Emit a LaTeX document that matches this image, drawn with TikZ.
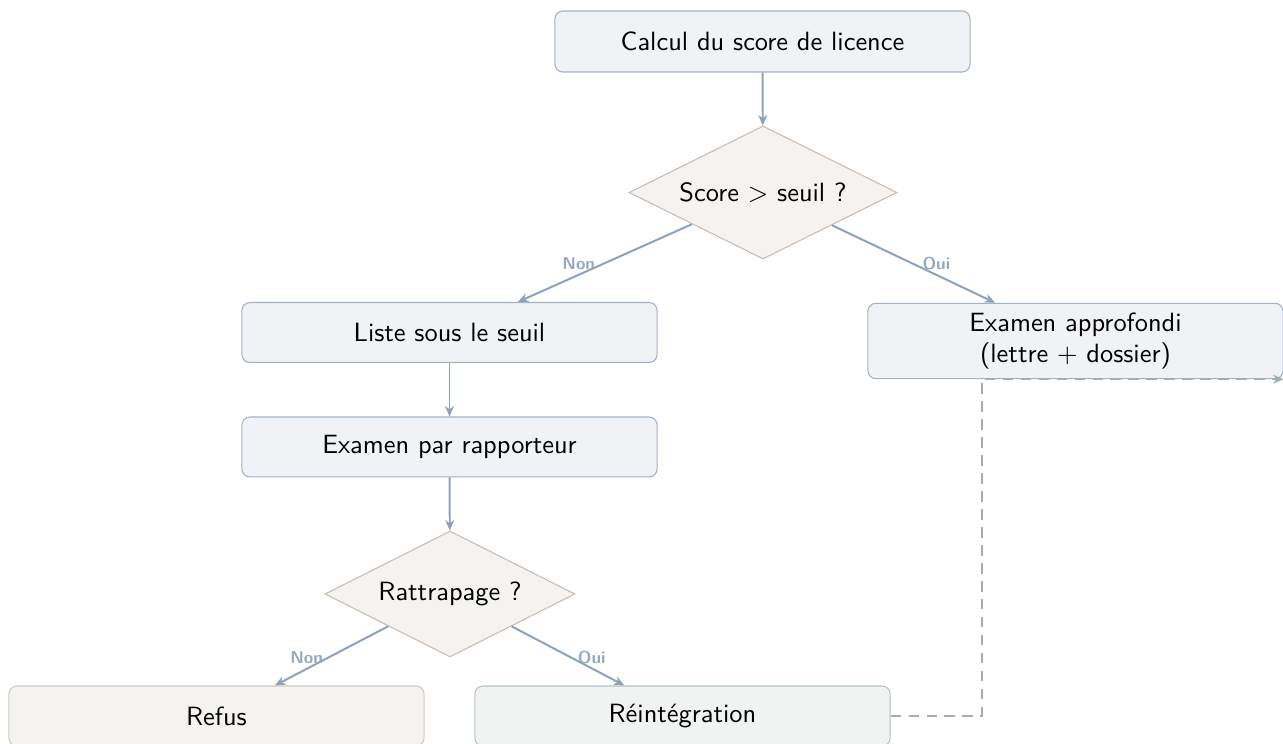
\documentclass[tikz,border=0pt]{standalone}
\usetikzlibrary{shapes.geometric,arrows.meta,calc}
\definecolor{boxfill}{HTML}{F0F2F6}
\definecolor{boxdraw}{HTML}{A2B2C4}
\definecolor{decfill}{HTML}{F4F3F1}
\definecolor{decdraw}{HTML}{C9BBAE}
\definecolor{refdraw}{HTML}{D2CAC2}
\definecolor{reifill}{HTML}{F1F3F2}
\definecolor{reidraw}{HTML}{B6C2C4}
\definecolor{arrcol}{HTML}{8DA2B8}
\definecolor{labcol}{HTML}{95A8BC}
\definecolor{dashcol}{HTML}{9FB0AE}
\tikzset{
  procbox/.style={rectangle, rounded corners=3pt, draw=boxdraw, fill=boxfill, line width=0.4pt,
    minimum width=157.2pt, minimum height=22.7pt, inner ysep=3.5pt, align=center,
    font=\sffamily},
  decbox/.style={diamond, draw=decdraw, fill=decfill, line width=0.4pt, aspect=2, inner sep=1pt,
    font=\sffamily},
  refbox/.style={procbox, draw=refdraw, fill=decfill},
  reibox/.style={procbox, draw=reidraw, fill=reifill},
  arr/.style={draw=arrcol, line width=0.75pt, -{Stealth[length=4pt,width=3.4pt]}},
  darr/.style={draw=dashcol, line width=0.75pt, dash pattern=on 4pt off 2.8pt, -{Stealth[length=4pt,width=3.4pt]}},
  lab/.style={font=\sffamily\bfseries\fontsize{6.5}{7.5}\selectfont, text=labcol, inner sep=1.5pt}
}
\begin{document}
\begin{tikzpicture}[x=0.3787pt,y=-0.3787pt]
\useasboundingbox (0,0) rectangle (1283,744);
\node[procbox, minimum height=23.1pt] (calc) at (762.5,41.5) {Calcul du score de licence};
\node[decbox, minimum width=101.5pt, minimum height=50.4pt] (d1) at (763,192.5) {Score $>$ seuil ?};
\node[procbox] (liste) at (449.5,332.5) {Liste sous le seuil};
\node[procbox] (exam) at (1075.5,341) {Examen approfondi\\(lettre + dossier)};
\node[procbox] (rapp) at (449.5,447) {Examen par rapporteur};
\node[decbox, minimum width=94.7pt, minimum height=47.7pt] (d2) at (450,594) {Rattrapage ?};
\node[refbox] (refus) at (216.5,716) {Refus};
\node[reibox] (reint) at (682.5,716) {Réintégration};

\draw[arr] (calc) -- (d1);
\draw[arr] (d1) -- node[lab, pos=0.65, above] {Non} (liste);
\draw[arr] (d1) -- node[lab, pos=0.64, above] {Oui} (exam);
\draw[arr] (liste) -- (rapp);
\draw[arr] (rapp) -- (d2);
\draw[arr] (d2) -- node[lab, pos=0.72, above] {Non} (refus);
\draw[arr] (d2) -- node[lab, pos=0.71, above] {Oui} (reint);
\draw[darr] (reint.east) -- ++(91,0) |- (exam.south east);
\end{tikzpicture}
\end{document}
